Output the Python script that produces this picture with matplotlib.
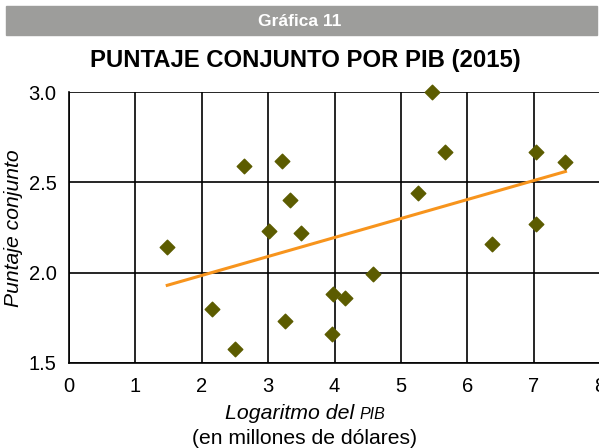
import matplotlib
matplotlib.use("Agg")
import matplotlib.pyplot as plt
import numpy as np

# -----------------------------
# Data
# -----------------------------
log_pib = [1.48, 2.64, 3.21, 3.33, 3.01, 3.49, 2.15, 2.50, 3.25, 3.96,
           3.98, 4.16, 4.58, 5.47, 5.66, 5.26, 6.37, 7.03, 7.03, 7.47]
puntaje = [2.14, 2.59, 2.62, 2.40, 2.23, 2.22, 1.80, 1.58, 1.73, 1.66,
           1.88, 1.86, 1.99, 3.00, 2.67, 2.44, 2.16, 2.67, 2.27, 2.61]

trend_x = [1.48, 7.48]
trend_y = [1.93, 2.56]

x_ticks = [0, 1, 2, 3, 4, 5, 6, 7, 8]
y_ticks = [1.5, 2.0, 2.5, 3.0]

plt.rcParams["font.family"] = ["Liberation Sans", "DejaVu Sans"]

W, H = 599, 448
fig = plt.figure(figsize=(W / 100, H / 100), dpi=100)

# header band
fig.patches.append(plt.Rectangle((6 / W, 1 - 35 / H), 591 / W, 29 / H,
                                 transform=fig.transFigure,
                                 color="#9d9d9b", zorder=0))
fig.text(300 / W, 1 - 21 / H, "Gráfica 11", color="white",
         fontsize=12.5, fontweight="bold", ha="center", va="center")
fig.text(305 / W, 1 - 60 / H, "PUNTAJE CONJUNTO POR PIB (2015)",
         fontsize=17.2, fontweight="bold", ha="center", va="center")

# -----------------------------
# Axes
# -----------------------------
ax = fig.add_axes([69 / W, 1 - 363 / H, 531 / W, 271 / H])

ax.plot(trend_x, trend_y, color="#f7941d", lw=2.2, zorder=3)
ax.scatter(log_pib, puntaje, marker="D", s=55, color="#5c5c00",
           zorder=4, clip_on=False)

ax.set_xlim(0, 8)
ax.set_ylim(1.5, 3.0)
ax.set_xticks(x_ticks)
ax.set_yticks(y_ticks)
ax.set_yticklabels([f"{v:.1f}" for v in y_ticks])
ax.tick_params(length=0, labelsize=14.5, pad=10)
ax.tick_params(axis="y", pad=9)

ax.grid(True, color="black", lw=1.2)
ax.set_axisbelow(True)
for s in ["top", "right"]:
    ax.spines[s].set_visible(False)
for s in ["left", "bottom"]:
    ax.spines[s].set_linewidth(1.2)

fig.text(14 / W, 1 - 228 / H, "Puntaje conjunto", rotation=90,
         fontsize=15.2, style="italic", ha="center", va="center")

# x label: "Logaritmo del" + small-caps "PIB"
fig.canvas.draw()
t1 = fig.text(0, 1 - 413 / H, "Logaritmo del ", fontsize=15.3,
              style="italic", ha="left", va="center")
t2 = fig.text(0, 1 - 414 / H, "PIB", fontsize=11.5,
              style="italic", ha="left", va="center")
r = fig.canvas.get_renderer()
w1 = t1.get_window_extent(r).width
w2 = t2.get_window_extent(r).width
x0 = 305 - (w1 + w2) / 2
t1.set_x(x0 / W)
t2.set_x((x0 + w1) / W)
fig.text(304 / W, 1 - 438 / H, "(en millones de dólares)", fontsize=15.2,
         ha="center", va="center")

plt.savefig("out.png", dpi=100)
plt.close()
